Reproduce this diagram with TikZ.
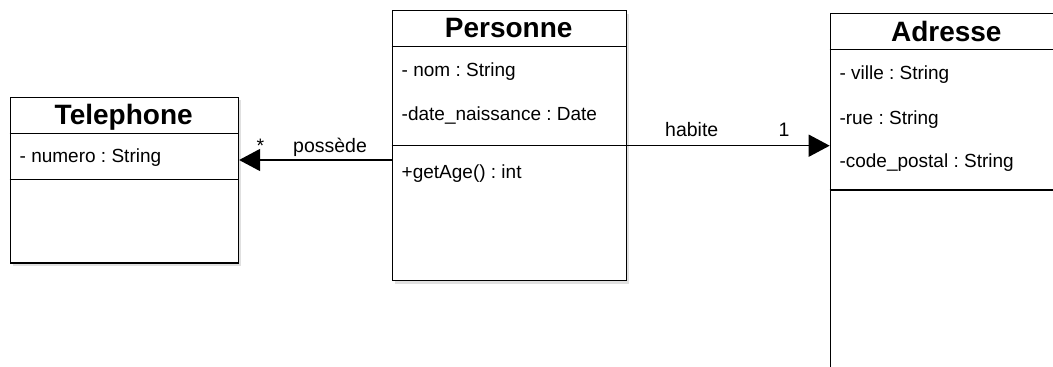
\documentclass[tikz,border=0pt]{standalone}
\usepackage{fontspec}
\setmainfont{Liberation Sans}
\usetikzlibrary{arrows.meta,shadows}
\frenchspacing
\begin{document}
\begin{tikzpicture}[x=1pt,y=-1pt,
  classbox/.style={draw=black, line width=1.4pt, fill=white, anchor=north west, inner sep=0pt,
    drop shadow={shadow xshift=3pt, shadow yshift=-3pt, opacity=0.12, fill=black}},
  divider/.style={draw=black, line width=1.4pt},
  ctitle/.style={anchor=base, inner sep=0pt, font=\fontsize{28}{31}\selectfont\bfseries},
  attr/.style={anchor=base west, inner sep=0pt, font=\frenchspacing\fontsize{19}{22}\selectfont},
  lbl/.style={anchor=base west, inner sep=0pt, font=\fontsize{19.5}{22}\selectfont},
  assoc/.style={line width=1.4pt, -{Triangle[length=21pt,width=22pt]}}
]
\clip (0,0) rectangle (1053,367);
\fill[white] (0,0) rectangle (1053,367);

% Telephone
\node[classbox, minimum width=228pt, minimum height=165.6pt] (tel) at (9.7,96.7) {};
\draw[divider] (tel.west |- 0,133.3) -- (tel.east |- 0,133.3);
\draw[divider] (tel.west |- 0,179.3) -- (tel.east |- 0,179.3);
\node[ctitle] (teltitle) at (123.7,124.3) {Telephone};
\node[attr] (telnum) at (19.5,162.5) {- numero : String};

% Personne
\node[classbox, minimum width=234pt, minimum height=270pt] (pers) at (391.7,10) {};
\draw[divider] (pers.west |- 0,46.7) -- (pers.east |- 0,46.7);
\draw[divider] (pers.west |- 0,145.7) -- (pers.east |- 0,145.7);
\node[ctitle] (perstitle) at (508.7,37.3) {Personne};
\node[attr] (persnom) at (401.5,76.7) {- nom : String};
\node[attr] (persdate) at (401.5,120) {-date\_naissance : Date};
\node[attr] (persage) at (401.5,178.3) {+getAge() : int};

% Adresse
\node[classbox, minimum width=233.3pt, minimum height=400pt] (adr) at (829.7,12.7) {};
\draw[divider] (adr.west |- 0,49.3) -- (adr.east |- 0,49.3);
\draw[divider] (adr.west |- 0,190) -- (adr.east |- 0,190);
\node[ctitle] (adrtitle) at (946.3,41.7) {Adresse};
\node[attr] (adrville) at (839.3,79.3) {- ville : String};
\node[attr] (adrrue) at (839.3,124) {-rue : String};
\node[attr] (adrcode) at (839.3,167.7) {-code\_postal : String};

% Associations
\draw[assoc] (pers.west |- 0,160) -- (tel.east |- 0,160);
\node[lbl] (possede) at (293,152.7) {possède};
\node[lbl] (star) at (256.5,152) {*};
\draw[assoc] (pers.east |- 0,145.7) -- (adr.west |- 0,145.7);
\node[lbl] (habite) at (665,136.7) {habite};
\node[lbl] (one) at (778.5,136.7) {1};
\end{tikzpicture}
\end{document}
